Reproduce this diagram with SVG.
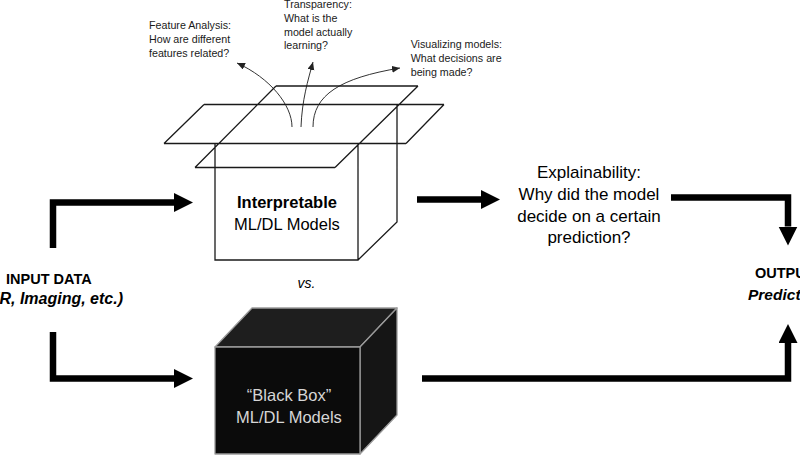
<svg xmlns="http://www.w3.org/2000/svg" width="800" height="464" viewBox="0 0 800 464">
<style>
text{font-family:"Liberation Sans",Arial,sans-serif;fill:#000}
.note{font-size:10.7px;fill:#1a1a1a}
.main{font-size:16.5px}
.exp{font-size:17px;text-anchor:middle}
.b{font-weight:bold}
.i{font-style:italic}
.box{fill:none;stroke:#1a1a1a;stroke-width:1.3}
.thick{fill:none;stroke:#000;stroke-width:6.5;stroke-linejoin:miter}
.thin{fill:none;stroke:#333;stroke-width:1}
.bb{stroke:#9a9a9a;stroke-width:1.3;stroke-linejoin:round}
.bbt{font-size:16.5px;fill:#d6d6d6;text-anchor:middle}
</style>
<defs>
<marker id="ah" markerUnits="userSpaceOnUse" markerWidth="20" markerHeight="20" refX="0" refY="9.5" orient="auto">
<path d="M0,0 L19,9.5 L0,19 z" fill="#000"/>
</marker>
<marker id="ahs" markerUnits="userSpaceOnUse" markerWidth="10" markerHeight="8" refX="8" refY="3.5" orient="auto">
<path d="M0,0 L8,3.5 L0,7 z" fill="#222"/>
</marker>
</defs>
<rect width="800" height="464" fill="#fff"/>

<g id="connectors">
<path class="thick" d="M53,248 V202.5 H174" marker-end="url(#ah)"/>
<path class="thick" d="M53,332 V378.5 H174" marker-end="url(#ah)"/>
<path class="thick" d="M417,199.5 H481" marker-end="url(#ah)"/>
<path class="thick" d="M671,197.5 H788 V226.5" marker-end="url(#ah)"/>
<path class="thick" d="M422,378.5 H788 V343" marker-end="url(#ah)"/>
<path class="thin" d="M292,127 C292,105 270,78 237,63" marker-end="url(#ahs)"/>
<path class="thin" d="M301,127 C302,100 308,80 313,62" marker-end="url(#ahs)"/>
<path class="thin" d="M313,127 C313,95 340,78 400,68" marker-end="url(#ahs)"/>
</g>

<g id="interpretable-box">
<path class="box" d="M276,86 H418 M204,104.5 H444 M164,143.5 H406 M195,167.5 H335 M276,86 L195,167.5 M418,86 L335,167.5 M204,104.5 L164,143.5 M444,104.5 L406,143.5 M215,143.5 V260 H358 V143.5 M397,104.5 V222 L358,260"/>
<text class="main b" x="287" y="208" text-anchor="middle">Interpretable</text>
<text class="main" x="287" y="230" text-anchor="middle">ML/DL Models</text>
</g>

<g id="vs">
<text class="i" x="306.5" y="288" font-size="14" text-anchor="middle">vs.</text>
</g>

<g id="black-box">
<polygon class="bb" points="215,347 252,308 397,308 360,347" fill="#1e1e1e"/>
<polygon class="bb" points="360,347 397,308 397,415 360,454" fill="#151515"/>
<rect class="bb" x="215" y="347" width="145" height="107" fill="#0b0b0b"/>
<text class="bbt" x="289" y="401">“Black Box”</text>
<text class="bbt" x="289" y="423">ML/DL Models</text>
</g>

<g id="input">
<text class="b" x="6" y="284" font-size="14.5">INPUT DATA</text>
<text class="b i" x="123" y="304" font-size="16" text-anchor="end">(EHR, Imaging, etc.)</text>
</g>

<g id="explainability">
<text class="exp" x="589" y="178">Explainability:</text>
<text class="exp" x="589" y="200">Why did the model</text>
<text class="exp" x="589" y="221.5">decide on a certain</text>
<text class="exp" x="589" y="243">prediction?</text>
</g>

<g id="output">
<text class="b" x="755" y="278" font-size="14.5">OUTPUT</text>
<text class="b i" x="748" y="300" font-size="15.5">Predictions</text>
</g>

<g id="feature-analysis">
<text class="note" x="149" y="29.3">Feature Analysis:</text>
<text class="note" x="149" y="43">How are different</text>
<text class="note" x="149" y="56.7">features related?</text>
</g>

<g id="transparency">
<text class="note" x="284" y="8">Transparency:</text>
<text class="note" x="284" y="21.8">What is the</text>
<text class="note" x="284" y="35.6">model actually</text>
<text class="note" x="284" y="49.4">learning?</text>
</g>

<g id="visualizing">
<text class="note" x="410.7" y="48.3">Visualizing models:</text>
<text class="note" x="410.7" y="62.1">What decisions are</text>
<text class="note" x="410.7" y="75.9">being made?</text>
</g>
</svg>
